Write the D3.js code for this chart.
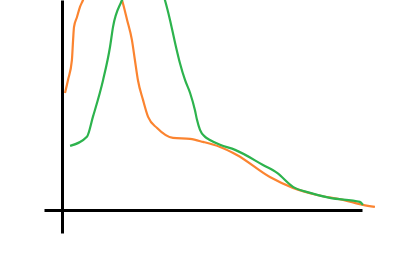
<!DOCTYPE html>
<html>
<head>
<meta charset="utf-8">
<script src="https://cdn.jsdelivr.net/npm/d3@7"></script>
<style>
  html, body { margin: 0; padding: 0; background: #fff; }
  svg { display: block; }
</style>
</head>
<body>
<div id="app"></div>
<script>
// orange series: [x, value]
const orangeX = [1, 2, 3.3, 3.7, 4, 5, 6, 7, 9.3, 13.3, 17.3, 20, 21.7, 23.3, 24.3, 25.3, 27, 28.7, 31.7, 37, 42.7, 47, 52.7, 58.3, 69.3, 77, 85, 93.7, 100.3, 104.3];
const orangeY = [55.7, 61.9, 71.4, 81, 87.1, 91.9, 96.7, 100, 111, 116, 110, 100, 90.5, 81, 71.4, 61.9, 52.4, 44.3, 39, 34.3, 33.8, 32.4, 30, 26.2, 15.7, 10.5, 7.1, 4.8, 2.4, 1.4];

// green series
const greenX = [2.7, 8.3, 10.3, 13.7, 16, 17, 20, 24.3, 29.3, 32.7, 34.3, 36, 37.7, 39.3, 41, 42.7, 44.3, 45, 46, 47.7, 49.3, 52.7, 57.7, 67, 71.7, 77, 82.7, 89.3, 99.3, 100.3];
const greenY = [30.5, 34.8, 44.3, 61.9, 77.6, 87.1, 100, 114, 116.7, 107, 100, 90.5, 79.5, 70, 61.9, 55.7, 47.6, 42.9, 38.1, 34.8, 33.3, 31, 28.6, 21.4, 17.6, 11, 8.1, 5.7, 3.8, 2.4];

const width = 400;
const height = 260;

const svg = d3.select("#app")
  .append("svg")
  .attr("width", width)
  .attr("height", height);

const x = d3.scaleLinear().domain([-6, 100]).range([44, 362]);
const y = d3.scaleLinear().domain([-11, 100]).range([233, 0]);

const line = d3.line()
  .x(d => x(d[0]))
  .y(d => y(d[1]))
  .curve(d3.curveMonotoneX);

const series = [
  { color: "#fb8430", pts: d3.zip(orangeX, orangeY) },
  { color: "#2db34d", pts: d3.zip(greenX, greenY) }
];

svg.selectAll("path.series")
  .data(series)
  .enter()
  .append("path")
  .attr("class", "series")
  .attr("fill", "none")
  .attr("stroke", d => d.color)
  .attr("stroke-width", 2.2)
  .attr("d", d => line(d.pts));

svg.append("g")
  .attr("transform", `translate(0, ${y(0)})`)
  .call(d3.axisBottom(x).ticks(0).tickSizeOuter(0));

svg.append("g")
  .attr("transform", `translate(${x(0)}, 0)`)
  .call(d3.axisLeft(y).ticks(0).tickSizeOuter(0));

svg.selectAll(".domain")
  .attr("stroke", "#000")
  .attr("stroke-width", 3);
</script>
</body>
</html>
